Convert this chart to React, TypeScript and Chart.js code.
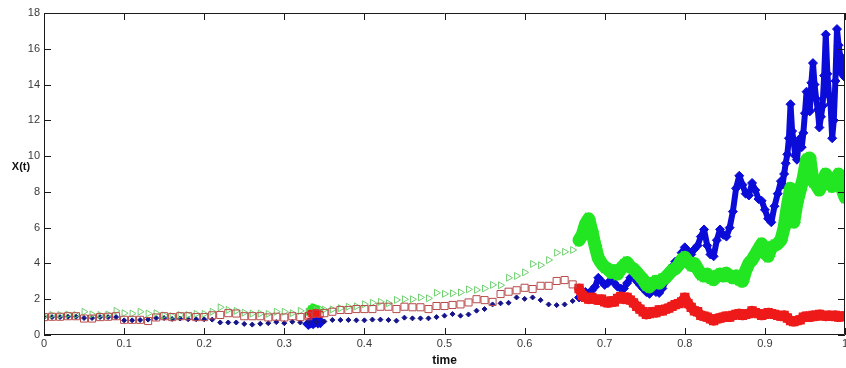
import React, { useEffect, useRef } from "react";
import { Chart, registerables } from "chart.js";

Chart.register(...registerables);

// ---- tick labels ----
const xTickValues = [0, 0.1, 0.2, 0.3, 0.4, 0.5, 0.6, 0.7, 0.8, 0.9, 1];
const xTickLabels = ["0", "0.1", "0.2", "0.3", "0.4", "0.5", "0.6", "0.7", "0.8", "0.9", "1"];
const yTickValues = [0, 2, 4, 6, 8, 10, 12, 14, 16, 18];
const yTickLabels = ["0", "2", "4", "6", "8", "10", "12", "14", "16", "18"];
const xTitle = "time";
const yTitle = "X(t)";

// ---- time grids ----
const sparseTimes = Array.from({ length: 67 }, (_, i) => i / 100); // 0 .. 0.66
const clusterTimes = [0.33, 0.333, 0.336, 0.339, 0.342, 0.345];
const denseTimes = Array.from({ length: 84 }, (_, i) => 0.668 + i * 0.004); // 0.668 .. 1
const blueDenseTimes = [
  ...Array.from({ length: 64 }, (_, i) => 0.668 + i * 0.004),
  ...Array.from({ length: 40 }, (_, i) => 0.922 + i * 0.002),
];

// ---- series values ----
const blueSparse = [
  1.0, 1.0, 1.0, 1.02, 1.02, 0.95, 0.95, 1.0, 1.0, 1.0,
  0.82, 0.82, 0.84, 0.86, 0.95, 0.95, 0.9, 0.92, 0.88, 0.88,
  0.88, 0.86, 0.7, 0.7, 0.7, 0.62, 0.58, 0.63, 0.66, 0.72,
  0.66, 0.74, 0.7, 0.74, 0.72, 0.76, 0.84, 0.84, 0.84, 0.82,
  0.82, 0.86, 0.86, 0.84, 0.8, 0.97, 0.93, 0.93, 0.93, 1.0,
  1.08, 1.17, 1.08, 1.15, 1.36, 1.45, 1.71, 1.77, 1.8, 2.1,
  2.02, 2.1, 1.95, 1.71, 1.67, 1.71, 1.9,
];
const redSparse = [
  1.0, 1.02, 1.02, 1.05, 1.05, 0.92, 0.92, 1.0, 1.02, 1.05,
  0.85, 0.85, 0.85, 0.78, 0.98, 1.05, 1.0, 1.05, 1.05, 1.0,
  1.0, 1.1, 1.12, 1.22, 1.2, 1.05, 1.05, 1.05, 0.98, 1.02,
  0.98, 1.05, 1.0, 1.05, 1.2, 1.22, 1.3, 1.4, 1.4, 1.45,
  1.45, 1.45, 1.58, 1.58, 1.45, 1.58, 1.55, 1.55, 1.45, 1.62,
  1.62, 1.68, 1.71, 1.82, 2.0, 1.95, 1.85, 2.29, 2.42, 2.5,
  2.64, 2.57, 2.75, 2.75, 3.02, 3.07, 2.83,
];
const greenSparse = [
  1.05, 1.12, 1.12, 1.15, 1.12, 1.3, 1.15, 1.12, 1.15, 1.35,
  1.22, 1.2, 1.3, 1.2, 1.22, 1.1, 1.05, 1.12, 1.12, 1.18,
  1.18, 1.3, 1.55, 1.4, 1.35, 1.25, 1.2, 1.2, 1.18, 1.3,
  1.3, 1.22, 1.35, 1.3, 1.4, 1.42, 1.43, 1.5, 1.58, 1.6,
  1.72, 1.8, 1.85, 1.77, 1.96, 2.0, 2.0, 2.1, 2.05, 2.36,
  2.3, 2.33, 2.38, 2.55, 2.52, 2.6, 2.8, 2.78, 3.2, 3.3,
  3.5, 3.97, 3.9, 4.19, 4.6, 4.65, 4.75,
];

const blueCluster = [0.62, 0.7, 0.66, 0.75, 0.7, 0.72];
const redCluster = [1.1, 1.2, 1.15, 1.25, 1.2, 1.15];
const greenCluster = [1.3, 1.45, 1.55, 1.5, 1.4, 1.45];

const blueDense = [
  2.1, 2.3, 2.4, 2.3, 2.5, 2.7, 3.2, 3.0, 2.8, 2.9,
  3.1, 2.9, 2.7, 2.6, 2.6, 2.9, 3.2, 3.3, 3.0, 2.8,
  2.6, 2.4, 2.3, 2.5, 2.4, 2.35, 2.6, 3.0, 3.6, 3.8,
  4.1, 4.0, 4.6, 4.9, 4.7, 4.5, 4.8, 5.0, 5.5, 5.9,
  5.0, 4.5, 4.4, 5.3, 5.9, 5.6, 5.5, 6.0, 6.9, 8.2,
  8.9, 8.4, 7.9, 7.8, 8.5, 8.1, 7.6, 7.5, 7.0, 6.5,
  6.3, 7.2, 7.9, 8.6,
  8.4, 9.0, 9.6, 10.1, 11.0, 12.9, 11.4, 10.8, 10.0, 9.8,
  10.6, 11.0, 10.5, 11.3, 12.4, 13.6, 12.8, 12.5, 14.1, 15.2,
  14.0, 13.2, 12.6, 11.6, 12.2, 12.8, 14.5, 16.8, 14.6, 13.4,
  12.9, 11.0, 12.0, 14.2, 17.1, 16.2, 15.6, 14.6, 15.3, 14.4,
];
const redDense = [
  2.6, 2.2, 2.1, 2.0, 2.1, 2.0, 1.95, 2.0, 1.85, 1.8,
  1.9, 1.85, 2.05, 2.15, 2.0, 2.1, 1.95, 1.8, 1.6, 1.45,
  1.3, 1.15, 1.2, 1.3, 1.25, 1.4, 1.35, 1.45, 1.5, 1.6,
  1.7, 1.75, 1.85, 2.1, 1.75, 1.55, 1.35, 1.3, 1.1, 1.05,
  1.0, 0.9, 0.8, 0.9, 0.95, 1.0, 1.05, 1.0, 1.1, 1.15,
  1.2, 1.1, 1.15, 1.2, 1.35, 1.25, 1.2, 1.1, 1.15, 1.25,
  1.2, 1.15, 1.1, 1.05, 1.1, 0.95, 0.8, 0.75, 0.8, 0.85,
  1.0, 1.05, 1.0, 1.1, 1.05, 1.15, 1.1, 1.05, 1.1, 1.05,
  1.1, 1.0, 1.05, 1.05,
];
const greenDense = [
  5.3, 5.6, 6.2, 6.5, 5.8, 5.0, 4.3, 4.0, 3.8, 3.7,
  3.5, 3.6, 3.4, 3.7, 3.9, 4.05, 3.8, 3.7, 3.5, 3.3,
  3.1, 2.8, 2.7, 2.9, 3.0, 2.9, 3.1, 3.2, 3.4, 3.6,
  3.7, 3.9, 4.2, 4.35, 4.1, 3.9, 4.0, 3.7, 3.4, 3.3,
  3.4, 3.2, 3.1, 3.3, 3.4, 3.3, 3.45, 3.3, 3.2, 3.3,
  3.1, 3.0, 3.6, 4.0, 4.2, 4.5, 4.8, 5.1, 4.6, 4.4,
  4.9, 5.0, 5.1, 5.3, 6.0, 7.2, 8.2, 6.3, 7.4, 8.1,
  8.8, 9.8, 9.9, 8.6, 8.4, 8.1, 8.5, 9.0, 8.6, 8.3,
  8.6, 9.0, 8.2, 7.7,
];

const pts = (ts: number[], ys: number[]) => ts.map((t, i) => ({ x: t, y: ys[i] }));

const FONT = '"Liberation Sans", Arial, Helvetica, sans-serif';

const framePlugin = {
  id: "matlabFrame",
  afterDatasetsDraw(chart: any) {
    const { ctx, chartArea: a, scales } = chart;
    const tl = 7;
    ctx.save();
    ctx.strokeStyle = "#1a1a1a";
    ctx.lineWidth = 1;
    ctx.beginPath();
    ctx.rect(a.left + 0.5, a.top + 0.5, a.right - a.left - 1, a.bottom - a.top - 1);
    xTickValues.forEach((v) => {
      const px = Math.round(scales.x.getPixelForValue(v)) + 0.5;
      ctx.moveTo(px, a.bottom);
      ctx.lineTo(px, a.bottom - tl);
      ctx.moveTo(px, a.top);
      ctx.lineTo(px, a.top + tl);
    });
    yTickValues.forEach((v) => {
      const py = Math.round(scales.y.getPixelForValue(v)) + 0.5;
      ctx.moveTo(a.left, py);
      ctx.lineTo(a.left + tl, py);
      ctx.moveTo(a.right, py);
      ctx.lineTo(a.right - tl, py);
    });
    ctx.stroke();
    ctx.fillStyle = "#111";
    ctx.textBaseline = "middle";
    ctx.textAlign = "center";
    ctx.font = `bold 11px ${FONT}`;
    ctx.fillText(yTitle, 21, 167);
    ctx.font = `bold 12px ${FONT}`;
    ctx.fillText(xTitle, (a.left + a.right) / 2, 361);
    ctx.restore();
  },
};

export default function App() {
  const ref = useRef<HTMLCanvasElement | null>(null);

  useEffect(() => {
    if (!ref.current) return;
    const blueSparseC = "#141488";
    const blueDenseC = "#0c0cd8";
    const greenSparseC = "#6fcf6f";
    const greenDenseC = "#22e622";
    const redSparseC = "#b84a4a";
    const redDenseC = "#ee1a1a";

    const chart = new Chart(ref.current, {
      type: "scatter",
      data: {
        datasets: [
          {
            data: pts(sparseTimes, redSparse),
            pointStyle: "rect",
            pointRadius: 5,
            backgroundColor: "rgba(0,0,0,0)",
            borderColor: redSparseC,
            pointBorderColor: redSparseC,
            pointBorderWidth: 1,
            order: 0,
          },
          {
            data: pts(clusterTimes, redCluster),
            showLine: true,
            borderColor: redDenseC,
            borderWidth: 7,
            pointStyle: "rect",
            pointRadius: 4,
            backgroundColor: "rgba(0,0,0,0)",
            pointBorderColor: redDenseC,
            pointBorderWidth: 1,
            order: 0,
          },
          {
            data: pts(denseTimes, redDense),
            showLine: true,
            borderColor: redDenseC,
            borderWidth: 10,
            borderJoinStyle: "round",
            borderCapStyle: "round",
            pointStyle: "rect",
            pointRadius: 5.5,
            backgroundColor: "rgba(0,0,0,0)",
            pointBorderColor: redDenseC,
            pointBorderWidth: 1.5,
            order: 0,
          },
          {
            data: pts(sparseTimes, greenSparse),
            pointStyle: "triangle",
            rotation: 90,
            pointRadius: 4,
            backgroundColor: "rgba(0,0,0,0)",
            borderColor: greenSparseC,
            pointBorderColor: greenSparseC,
            pointBorderWidth: 1,
            order: 1,
          },
          {
            data: pts(clusterTimes, greenCluster),
            showLine: true,
            borderColor: greenDenseC,
            borderWidth: 7,
            pointStyle: "triangle",
            rotation: 90,
            pointRadius: 4,
            backgroundColor: "rgba(0,0,0,0)",
            pointBorderColor: greenDenseC,
            pointBorderWidth: 1,
            order: 1,
          },
          {
            data: pts(denseTimes, greenDense),
            showLine: true,
            borderColor: greenDenseC,
            borderWidth: 13,
            borderJoinStyle: "round",
            borderCapStyle: "round",
            pointStyle: "triangle",
            rotation: 90,
            pointRadius: 6,
            backgroundColor: "rgba(0,0,0,0)",
            pointBorderColor: greenDenseC,
            pointBorderWidth: 1.5,
            order: 1,
          },
          {
            data: pts(sparseTimes, blueSparse),
            pointStyle: "rectRot",
            pointRadius: 2.5,
            backgroundColor: blueSparseC,
            borderColor: blueSparseC,
            pointBackgroundColor: blueSparseC,
            pointBorderColor: blueSparseC,
            pointBorderWidth: 1,
            order: 2,
          },
          {
            data: pts(clusterTimes, blueCluster),
            showLine: true,
            borderColor: blueDenseC,
            borderWidth: 5,
            pointStyle: "rectRot",
            pointRadius: 2.5,
            pointBackgroundColor: blueDenseC,
            pointBorderColor: blueDenseC,
            order: 2,
          },
          {
            data: pts(blueDenseTimes, blueDense),
            showLine: true,
            borderColor: blueDenseC,
            borderWidth: 6,
            borderJoinStyle: "round",
            borderCapStyle: "round",
            pointStyle: "rectRot",
            pointRadius: 4.5,
            pointBackgroundColor: blueDenseC,
            pointBorderColor: blueDenseC,
            pointBorderWidth: 1,
            order: 2,
          },
        ] as any,
      },
      options: {
        responsive: false,
        animation: false,
        devicePixelRatio: 1,
        events: [],
        layout: { autoPadding: false, padding: { top: 13, right: 1, left: 0, bottom: 0 } },
        elements: { line: { tension: 0 } },
        plugins: {
          legend: { display: false },
          tooltip: { enabled: false },
          title: { display: false },
        },
        scales: {
          x: {
            type: "linear",
            min: 0,
            max: 1,
            grid: { display: false, drawTicks: false },
            border: { display: false },
            afterBuildTicks: (scale: any) => {
              scale.ticks = xTickValues.map((v) => ({ value: v }));
            },
            afterFit: (scale: any) => {
              scale.height = 33;
              scale.paddingLeft = 0;
              scale.paddingRight = 0;
            },
            ticks: {
              padding: 2,
              color: "#3a3a3a",
              font: { family: FONT, size: 11 },
              maxRotation: 0,
              autoSkip: false,
              callback: (_v: any, i: number) => xTickLabels[i],
            },
          },
          y: {
            type: "linear",
            min: 0,
            max: 18,
            grid: { display: false, drawTicks: false },
            border: { display: false },
            afterBuildTicks: (scale: any) => {
              scale.ticks = yTickValues.map((v) => ({ value: v }));
            },
            afterFit: (scale: any) => {
              scale.width = 44;
            },
            ticks: {
              padding: 4,
              color: "#3a3a3a",
              font: { family: FONT, size: 11 },
              autoSkip: false,
              callback: (_v: any, i: number) => yTickLabels[i],
            },
          },
        },
      } as any,
      plugins: [framePlugin],
    });
    return () => chart.destroy();
  }, []);

  return (
    <div style={{ position: "absolute", left: 0, top: 0, width: 846, height: 368, background: "#fff" }}>
      <canvas ref={ref} width={846} height={368} style={{ width: 846, height: 368, display: "block" }} />
    </div>
  );
}
